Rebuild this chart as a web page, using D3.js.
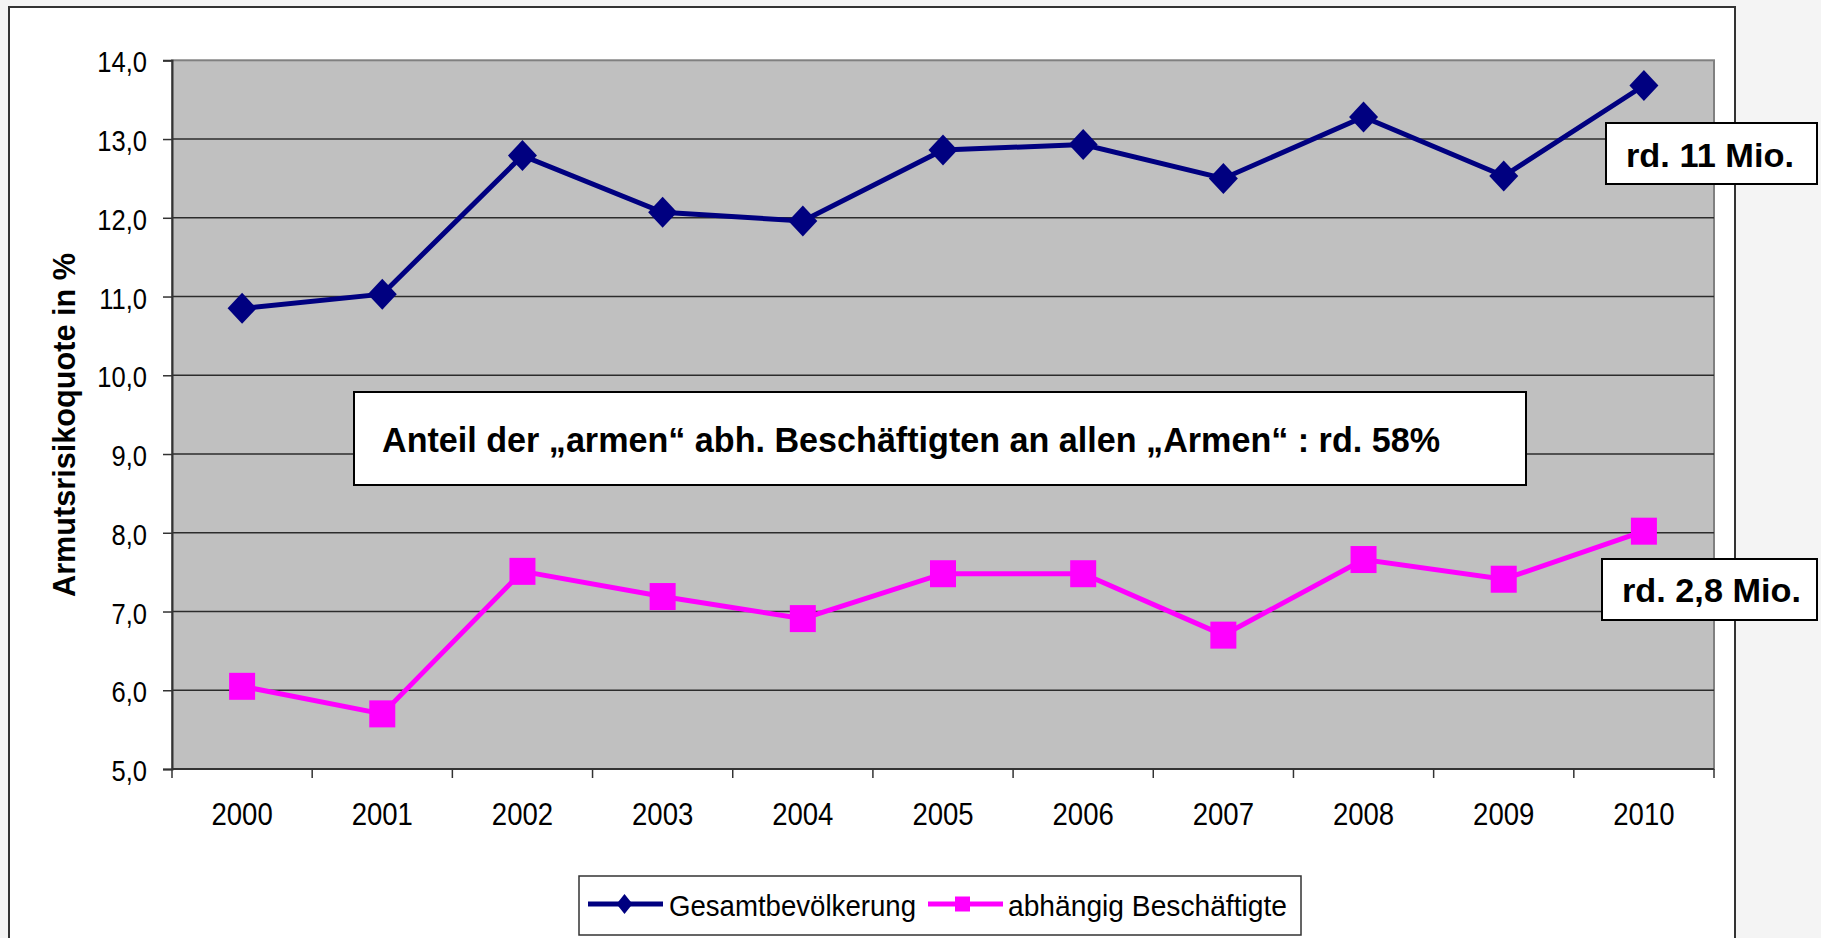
<!DOCTYPE html>
<html>
<head>
<meta charset="utf-8">
<script src="https://cdn.jsdelivr.net/npm/d3@7"></script>
<style>
  body { margin: 0; background: #f4f4f4; }
  text { font-family: Arial, "Liberation Sans", sans-serif; }
</style>
</head>
<body>
<script>
var svg_width  = 1821;
var svg_height = 938;

// data
var years = ["2000","2001","2002","2003","2004","2005","2006","2007","2008","2009","2010"];
var gesamt = [10.85, 11.03, 12.79, 12.07, 11.96, 12.86, 12.93, 12.50, 13.28, 12.53, 13.68];
var beschaeftigte = [6.05, 5.70, 7.51, 7.19, 6.91, 7.48, 7.48, 6.70, 7.66, 7.41, 8.02];
var yTicks = [5, 6, 7, 8, 9, 10, 11, 12, 13, 14];
var seriesNames = ["Gesamtbevölkerung", "abhängig Beschäftigte"];

var plot = {left: 172, right: 1714, top: 60.3, bottom: 769};

var svg = d3.select('body').append('svg')
            .attr('width', svg_width)
            .attr('height', svg_height)
            .style('display', 'block');

// the original text is a bit narrower than Arial, squeeze it horizontally
function squeeze(sel, k) {
    sel.each(function() {
        var w = this.getComputedTextLength();
        d3.select(this).attr('textLength', w * k).attr('lengthAdjust', 'spacingAndGlyphs');
    });
}

// white chart area with border
svg.append('rect')
   .attr('x', 9).attr('y', 7)
   .attr('width', 1726).attr('height', 960)
   .attr('fill', '#ffffff')
   .attr('stroke', '#333333')
   .attr('stroke-width', 2);

var x = d3.scaleBand()
          .domain(years)
          .range([plot.left, plot.right])
          .padding(0);

var y = d3.scaleLinear()
          .domain([5, 14])
          .range([plot.bottom, plot.top]);

// plot background
svg.append('rect')
   .attr('x', plot.left).attr('y', plot.top)
   .attr('width', plot.right - plot.left)
   .attr('height', plot.bottom - plot.top)
   .attr('fill', '#c0c0c0')
   .attr('stroke', '#808080')
   .attr('stroke-width', 2);

// gridlines
svg.append('g')
   .selectAll('line')
   .data(yTicks.filter(d => d > 5 && d < 14))
   .enter().append('line')
   .attr('x1', plot.left).attr('x2', plot.right)
   .attr('y1', d => y(d)).attr('y2', d => y(d))
   .attr('stroke', '#2c2c2c')
   .attr('stroke-width', 1.5);

// y axis
var yAxis = d3.axisLeft(y)
              .tickValues(yTicks)
              .tickSize(9)
              .tickPadding(16)
              .tickFormat(d => d3.format('.1f')(d).replace('.', ','));

var gy = svg.append('g')
            .attr('transform', 'translate(' + plot.left + ',0)')
            .call(yAxis);
gy.select('.domain').attr('stroke', '#333').attr('stroke-width', 2);
gy.selectAll('.tick line').attr('stroke', '#333').attr('stroke-width', 1.5);
gy.selectAll('.tick text')
  .attr('font-size', 29)
  .attr('font-family', 'Arial, "Liberation Sans", sans-serif')
  .attr('fill', '#000')
  .attr('dy', null)
  .attr('y', 11.5)
  .call(squeeze, 0.88);

// x axis, ticks at category boundaries
svg.append('line')
   .attr('x1', plot.left).attr('x2', plot.right)
   .attr('y1', plot.bottom).attr('y2', plot.bottom)
   .attr('stroke', '#333').attr('stroke-width', 2);

svg.append('g')
   .selectAll('line')
   .data(years.concat(['end']))
   .enter().append('line')
   .attr('x1', (d, i) => plot.left + i * x.step())
   .attr('x2', (d, i) => plot.left + i * x.step())
   .attr('y1', plot.bottom).attr('y2', plot.bottom + 9)
   .attr('stroke', '#333').attr('stroke-width', 1.5);

svg.append('g')
   .selectAll('text')
   .data(years)
   .enter().append('text')
   .attr('x', d => x(d) + x.bandwidth() / 2)
   .attr('y', 825)
   .attr('text-anchor', 'middle')
   .attr('font-size', 32)
   .text(d => d)
   .call(squeeze, 0.86);

// axis title
svg.append('text')
   .attr('transform', 'translate(75,425) rotate(-90)')
   .attr('text-anchor', 'middle')
   .attr('font-size', 31)
   .attr('font-weight', 'bold')
   .attr('textLength', 344)
   .attr('lengthAdjust', 'spacingAndGlyphs')
   .text('Armutsrisikoquote in %');

// lines
var line = d3.line()
             .x((d, i) => x(years[i]) + x.bandwidth() / 2)
             .y(d => y(d));

svg.append('path')
   .datum(gesamt)
   .attr('d', line)
   .attr('fill', 'none')
   .attr('stroke', '#000080')
   .attr('stroke-width', 5);

svg.append('path')
   .datum(beschaeftigte)
   .attr('d', line)
   .attr('fill', 'none')
   .attr('stroke', '#ff00ff')
   .attr('stroke-width', 5);

// markers
var diamond = 'M0,-15.5L14.5,0L0,15.5L-14.5,0Z';

svg.append('g')
   .selectAll('path')
   .data(gesamt)
   .enter().append('path')
   .attr('d', diamond)
   .attr('transform', (d, i) => 'translate(' + (x(years[i]) + x.bandwidth() / 2) + ',' + y(d) + ')')
   .attr('fill', '#000080');

svg.append('g')
   .selectAll('rect')
   .data(beschaeftigte)
   .enter().append('rect')
   .attr('x', (d, i) => x(years[i]) + x.bandwidth() / 2 - 13)
   .attr('y', d => y(d) - 13.5)
   .attr('width', 26).attr('height', 27)
   .attr('fill', '#ff00ff');

// text boxes
function textBox(bx, by, bw, bh, tx, ty, size, label, len) {
    svg.append('rect')
       .attr('x', bx).attr('y', by)
       .attr('width', bw).attr('height', bh)
       .attr('fill', '#fff')
       .attr('stroke', '#000')
       .attr('stroke-width', 2);
    var t = svg.append('text')
       .attr('x', tx).attr('y', ty)
       .attr('font-size', size)
       .attr('font-weight', 'bold')
       .text(label);
    if (len) t.attr('textLength', len).attr('lengthAdjust', 'spacingAndGlyphs');
}

textBox(354, 392, 1172, 93, 382, 452, 35,
        'Anteil der „armen“ abh. Beschäftigten an allen „Armen“ : rd. 58%', 1058);
textBox(1606, 123, 211, 61, 1626, 167, 33, 'rd. 11 Mio.', 168);
textBox(1602, 559, 215, 61, 1622, 602, 33, 'rd. 2,8 Mio.', 179);

// legend
var legend = svg.append('g');
legend.append('rect')
      .attr('x', 579).attr('y', 876)
      .attr('width', 722).attr('height', 59)
      .attr('fill', '#fff')
      .attr('stroke', '#333')
      .attr('stroke-width', 1.5);

var legY = 904;
legend.append('line')
      .attr('x1', 588).attr('x2', 663)
      .attr('y1', legY).attr('y2', legY)
      .attr('stroke', '#000080').attr('stroke-width', 5);
legend.append('path')
      .attr('d', 'M0,-10L8,0L0,10L-8,0Z')
      .attr('transform', 'translate(624.5,' + legY + ')')
      .attr('fill', '#000080');
legend.append('text')
      .attr('x', 669).attr('y', 916)
      .attr('font-size', 30)
      .attr('textLength', 247)
      .attr('lengthAdjust', 'spacingAndGlyphs')
      .text(seriesNames[0]);

legend.append('line')
      .attr('x1', 928).attr('x2', 1003)
      .attr('y1', legY).attr('y2', legY)
      .attr('stroke', '#ff00ff').attr('stroke-width', 5);
legend.append('rect')
      .attr('x', 955).attr('y', legY - 7.5)
      .attr('width', 15).attr('height', 15)
      .attr('fill', '#ff00ff');
legend.append('text')
      .attr('x', 1008).attr('y', 916)
      .attr('font-size', 30)
      .attr('textLength', 279)
      .attr('lengthAdjust', 'spacingAndGlyphs')
      .text(seriesNames[1]);
</script>
</body>
</html>
